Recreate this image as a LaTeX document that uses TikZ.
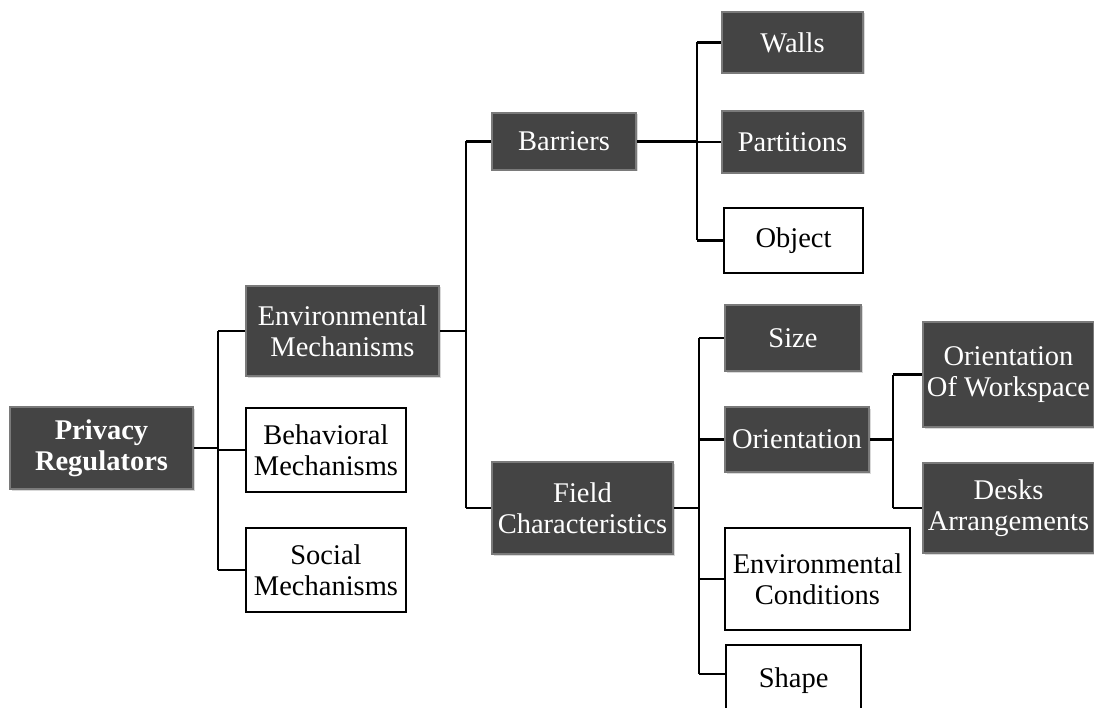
\documentclass[tikz,border=0pt]{standalone}
\usepackage{fontspec}
\setmainfont{Liberation Serif}
\usetikzlibrary{shadows}
\definecolor{boxdark}{HTML}{444444}
\definecolor{boxedge}{HTML}{7A7A7A}
\begin{document}
\begin{tikzpicture}[x=1pt,y=-1pt,
  every node/.style={font=\fontsize{28.5}{31}\selectfont, align=center, inner sep=0pt},
  darkbox/.style={fill=boxdark, draw=boxedge, line width=1.6pt, text=white,
    drop shadow={shadow xshift=1.5pt, shadow yshift=-1.5pt, fill=gray!50, opacity=0.6}},
  whitebox/.style={fill=white, draw=black, line width=2.4pt, text=black},
  conn/.style={draw=black, line width=2.6pt}]
\useasboundingbox (0,0) rectangle (1094,708);
% level 0
\node[darkbox, minimum width=183pt, minimum height=82pt, font=\fontsize{28.5}{31}\selectfont\bfseries] (pr) at (101.5,448) {Privacy\\Regulators};
% level 1
\node[darkbox, minimum width=193pt, minimum height=90pt] (em) at (342.5,331) {Environmental\\Mechanisms};
\node[whitebox, minimum width=160pt, minimum height=84pt] (bm) at (326,450) {Behavioral\\Mechanisms};
\node[whitebox, minimum width=160pt, minimum height=84pt] (sm) at (326,570) {Social\\Mechanisms};
% level 2
\node[darkbox, minimum width=144pt, minimum height=57pt] (ba) at (564,141.5) {Barriers};
\node[darkbox, minimum width=181pt, minimum height=92pt] (fc) at (582.5,508) {Field\\Characteristics};
% barriers children
\node[darkbox, minimum width=141pt, minimum height=61pt] (wa) at (792.5,42.5) {Walls};
\node[darkbox, minimum width=141pt, minimum height=62pt] (pa) at (792.5,142) {Partitions};
\node[whitebox, minimum width=139pt, minimum height=65pt] (ob) at (793.5,240.5) {Object};
% field children
\node[darkbox, minimum width=136pt, minimum height=66pt] (si) at (793,338) {Size};
\node[darkbox, minimum width=144pt, minimum height=65pt] (or) at (797,439.5) {Orientation};
\node[whitebox, minimum width=185pt, minimum height=102pt] (ec) at (817.5,579) {Environmental\\Conditions};
\node[whitebox, minimum width=135pt, minimum height=70pt, anchor=north west] (sh) at (725,644) {Shape};
% orientation children
\node[darkbox, minimum width=171pt, minimum height=105pt] (ow) at (1008.5,374.5) {Orientation\\Of Workspace};
\node[darkbox, minimum width=171pt, minimum height=90pt] (da) at (1008.5,508) {Desks\\Arrangements};
% buses
\coordinate (b0) at (218,0);
\coordinate (b1) at (466,0);
\coordinate (b2) at (697,0);
\coordinate (b3) at (699,0);
\coordinate (b4) at (893,0);
\coordinate (shy) at (0,674);
% connectors level 0
\draw[conn] (pr.east) -- (b0 |- pr.east);
\draw[conn] (b0 |- em.west) -- (em.west);
\draw[conn] (b0 |- bm.west) -- (bm.west);
\draw[conn] (b0 |- sm.west) -- (sm.west);
\draw[conn] (b0 |- em.west) -- (b0 |- sm.west);
% environmental
\draw[conn] (em.east) -- (b1 |- em.east);
\draw[conn] (b1 |- ba.west) -- (b1 |- fc.west);
\draw[conn] (b1 |- ba.west) -- (ba.west);
\draw[conn] (b1 |- fc.west) -- (fc.west);
% barriers
\draw[conn, line width=3.4pt] (ba.east) -- (b2 |- ba.east);
\draw[conn] (b2 |- wa.west) -- (b2 |- ob.west);
\draw[conn] (b2 |- wa.west) -- (wa.west);
\draw[conn] (b2 |- pa.west) -- (pa.west);
\draw[conn] (b2 |- ob.west) -- (ob.west);
% field
\draw[conn] (fc.east) -- (b3 |- fc.east);
\draw[conn] (b3 |- si.west) -- (b3 |- shy);
\draw[conn] (b3 |- si.west) -- (si.west);
\draw[conn] (b3 |- or.west) -- (or.west);
\draw[conn] (b3 |- ec.west) -- (ec.west);
\draw[conn] (b3 |- shy) -- (sh.west |- shy);
% orientation
\draw[conn] (or.east) -- (b4 |- or.east);
\draw[conn] (b4 |- ow.west) -- (b4 |- da.west);
\draw[conn] (b4 |- ow.west) -- (ow.west);
\draw[conn] (b4 |- da.west) -- (da.west);
\end{tikzpicture}
\end{document}
